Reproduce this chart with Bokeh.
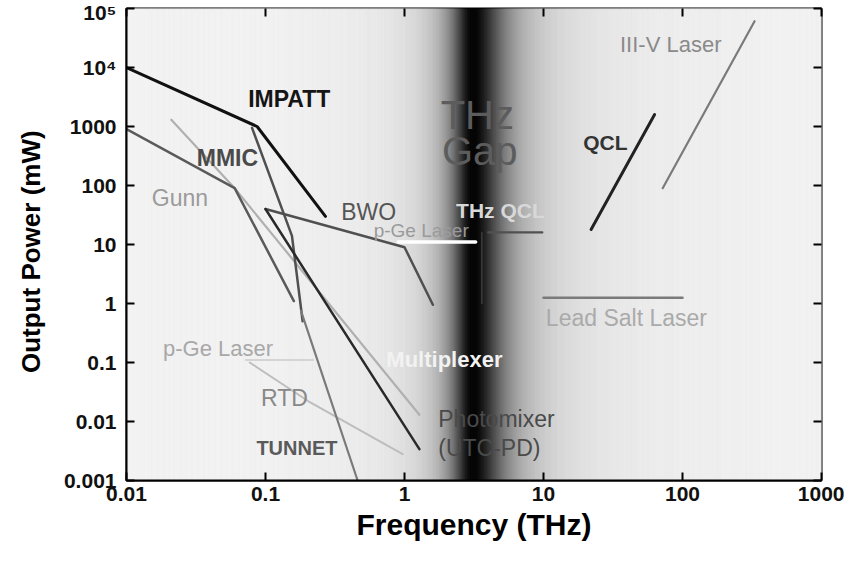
import numpy as np
from bokeh.plotting import figure
from bokeh.models import FixedTicker, CustomJSTickFormatter, LogAxis, Range1d
from bokeh.core.properties import value
from bokeh.embed import file_html
from bokeh.resources import INLINE

# ---------------- data ----------------
x_ticks = [0.01, 0.1, 1, 10, 100, 1000]
x_tick_labels = ["0.01", "0.1", "1", "10", "100", "1000"]
y_ticks = [0.001, 0.01, 0.1, 1, 10, 100, 1000, 1e4, 1e5]
y_tick_labels = ["0.001", "0.01", "0.1", "1", "10", "100", "1000", "10\u2074", "10\u2075"]

impatt_f = [0.01, 0.087, 0.27]
impatt_p = [10000, 1000, 30]
mmic_f = [0.08, 0.155, 0.185]
mmic_p = [950, 14, 0.5]
gunn_f = [0.01, 0.06, 0.16]
gunn_p = [900, 90, 1.1]
mult_f = [0.021, 0.06, 1.28]
mult_p = [1300, 90, 0.013]
bwo_f = [1.6, 1.0, 0.1]
bwo_p = [0.95, 9, 40]
utc_f = [0.1, 1.28]
utc_p = [40, 0.0034]
tunnet_f = [0.18, 0.46]
tunnet_p = [0.75, 0.001]
pge_low_f = [0.072, 0.22]
pge_low_p = [0.11, 0.11]
rtd_f = [0.077, 0.21, 0.97]
rtd_p = [0.1, 0.021, 0.0028]
pge_f = [0.9, 3.25]
pge_p = [11, 11]
thzqcl_f = [4.0, 9.8]
thzqcl_p = [16, 16]
thzqcl_v_f = [3.6, 3.6]
thzqcl_v_p = [16, 1.0]
qcl_f = [22, 63]
qcl_p = [18, 1600]
iiiv_f = [72, 330]
iiiv_p = [90, 61000]
leadsalt_f = [10, 100]
leadsalt_p = [1.25, 1.25]

gap_center_thz = 3.1

# ---------------- figure ----------------
p = figure(width=844, height=553, x_axis_type="log", y_axis_type="log",
           x_range=Range1d(0.01, 1000), y_range=Range1d(0.001, 1e5),
           output_backend="svg", toolbar_location=None,
           min_border_left=126, min_border_right=23, min_border_top=8,
           min_border_bottom=73)
p.grid.visible = False
p.background_fill_color = "#f2f2f2"
p.border_fill_color = "white"
p.outline_line_color = "black"
p.outline_line_width = 2

# THz gap shading (decoration)
step = 0.005
u = np.arange(-2.0, 3.0, step)
mid = u + step / 2
c = np.log10(gap_center_thz)
g = np.where(mid < c, 0.15, 0.23)
d = 1.0 / (1.0 + ((mid - c) / g) ** 2)
gray = np.clip(244 * (1 - d), 0, 255).astype(int)
cols = ["#%02x%02x%02x" % (v, v, v) for v in gray]
p.quad(left=10 ** u, right=10 ** (u + step), bottom=0.001, top=1e5,
       fill_color=cols, line_color=cols, line_width=0.6)

# ---------------- lines ----------------
def ln(f, pw, color, w):
    p.line(f, pw, line_color=color, line_width=w, line_cap="round", line_join="round")

ln(pge_low_f, pge_low_p, "#d4d4d4", 2)
ln(rtd_f, rtd_p, "#bdbdbd", 2)
ln(mult_f, mult_p, "#b0b0b0", 2.2)
ln(gunn_f, gunn_p, "#5a5a5a", 2.5)
ln(mmic_f, mmic_p, "#505050", 2.5)
ln(tunnet_f, tunnet_p, "#7a7a7a", 2.2)
ln(bwo_f, bwo_p, "#505050", 2.5)
ln(utc_f, utc_p, "#2a2a2a", 2.5)
ln(impatt_f, impatt_p, "#111111", 3)
ln(pge_f, pge_p, "#ffffff", 3.5)
ln(thzqcl_v_f, thzqcl_v_p, "#3c3c3c", 1.5)
ln(thzqcl_f, thzqcl_p, "#505050", 2.2)
ln(qcl_f, qcl_p, "#222222", 3)
ln(iiiv_f, iiiv_p, "#7a7a7a", 2.2)
ln(leadsalt_f, leadsalt_p, "#7a7a7a", 2.5)

# ---------------- labels ----------------
FONT = value("Liberation Sans")

def tx(x, y, t, color, size, bold=False):
    p.text(x=[x], y=[y], text=[t], text_color=color, text_font=FONT,
           text_font_size=size, text_font_style="bold" if bold else "normal",
           text_align="left", text_baseline="middle")

tx(0.075, 2940, "IMPATT", "#151515", "23px", True)
tx(0.032, 294, "MMIC", "#4a4a4a", "23px", True)
tx(0.0152, 62, "Gunn", "#9a9a9a", "23px")
tx(0.35, 36, "BWO", "#555555", "23px")
tx(0.6, 17.5, "p-Ge Laser", "#9a9a9a", "19px")
tx(2.35, 37, "THz QCL", "#d8d8d8", "21px", True)
tx(1.82, 1570, "THz", "#5c5c5c", "40px")
tx(1.86, 387, "Gap", "#5c5c5c", "40px")
tx(19.3, 528, "QCL", "#333333", "21px", True)
tx(35.5, 25000, "III-V Laser", "#8a8a8a", "22px")
tx(10.4, 0.575, "Lead Salt Laser", "#aaaaaa", "23px")
tx(0.0183, 0.172, "p-Ge Laser", "#a8a8a8", "22px")
tx(0.093, 0.0254, "RTD", "#888888", "23px")
tx(0.086, 0.0035, "TUNNET", "#5a5a5a", "20px", True)
tx(0.74, 0.112, "Multiplexer", "#f2f2f2", "22px", True)
tx(1.75, 0.0112, "Photomixer", "#4a4a4a", "23px")
tx(1.75, 0.0036, "(UTC-PD)", "#4a4a4a", "23px")

# ---------------- axes ----------------
def fmt(vals, labs):
    return CustomJSTickFormatter(args=dict(vals=vals, labs=labs), code="""
        for (let i = 0; i < vals.length; i++) {
            if (Math.abs(Math.log10(vals[i]) - Math.log10(tick)) < 1e-6) return labs[i];
        }
        return "";
    """)

xa = p.xaxis[0]
ya = p.yaxis[0]
xa.ticker = FixedTicker(ticks=x_ticks, minor_ticks=[])
ya.ticker = FixedTicker(ticks=y_ticks, minor_ticks=[])
xa.formatter = fmt(x_ticks, x_tick_labels)
ya.formatter = fmt(y_ticks, y_tick_labels)
for ax in (xa, ya):
    ax.major_tick_in = 8
    ax.major_tick_out = 0
    ax.major_tick_line_width = 2
    ax.major_tick_line_color = "black"
    ax.axis_line_width = 2
    ax.axis_line_color = "black"
    ax.major_label_text_font = "Liberation Sans"
    ax.major_label_text_font_size = "21px"
    ax.major_label_text_font_style = "bold"
    ax.major_label_text_color = "#111111"
    ax.axis_label_text_font = "Liberation Sans"
    ax.axis_label_text_font_style = "bold"
    ax.axis_label_text_color = "black"
xa.axis_label = "Frequency (THz)"
xa.axis_label_text_font_size = "30px"
xa.major_label_standoff = 6
xa.axis_label_standoff = 4
ya.axis_label = "Output  Power  (mW)"
ya.axis_label_text_font_size = "26px"
ya.major_label_standoff = 10
ya.axis_label_standoff = 15

top_ax = LogAxis(ticker=FixedTicker(ticks=x_ticks, minor_ticks=[]))
right_ax = LogAxis(ticker=FixedTicker(ticks=y_ticks, minor_ticks=[]))
for ax in (top_ax, right_ax):
    ax.major_tick_in = 8
    ax.major_tick_out = 0
    ax.major_tick_line_width = 2
    ax.major_tick_line_color = "black"
    ax.axis_line_color = None
    ax.major_label_text_font_size = "2px"
    ax.major_label_text_alpha = 0
    ax.major_label_standoff = 0
p.add_layout(top_ax, "above")
p.add_layout(right_ax, "right")

open("out.html", "w").write(file_html(p, INLINE))
